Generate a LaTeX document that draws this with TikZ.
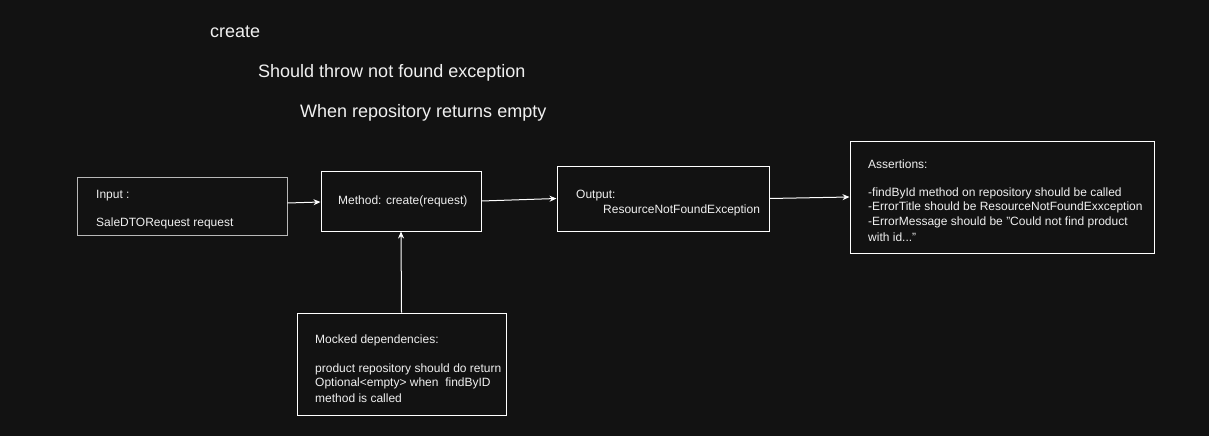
\documentclass[tikz,border=0pt]{standalone}
\usepackage{fontspec}
\setmainfont{Liberation Sans}
\usetikzlibrary{arrows.meta}
\definecolor{bgdark}{HTML}{121212}
\definecolor{txtlight}{HTML}{F0F0F0}
\definecolor{edgegray}{HTML}{B8B8B8}

\tikzset{
 box/.style={draw=white,line width=1pt,fill=bgdark,minimum width=#1},
 boxtxt/.style={anchor=west,text=txtlight,inner sep=0pt,font=\fontsize{12}{14.5}\selectfont,align=left},
 title/.style={anchor=west,text=txtlight,inner sep=0pt,font=\fontsize{18}{21}\selectfont},
 link/.style={draw=white,line width=1pt,-{Stealth[length=7pt,width=6pt]}}
}

\begin{document}
\begin{tikzpicture}[x=1pt,y=-1pt]
\fill[bgdark] (0,0) rectangle (1209,436);
\useasboundingbox (0,0) rectangle (1209,436);
% titles
\node (ttl1) at (210,32) [title]{create};
\node (ttl2) at (258,73) [title]{Should throw not found exception};
\node (ttl3) at (300,113) [title]{When repository returns empty};
% boxes
\node (input) at (182,206) [box=210,minimum height=58,draw=edgegray]{};
\node (method) at (401,201) [box=160,minimum height=60]{};
\node (output) at (663,198.5) [box=212,minimum height=65]{};
\node (assert) at (1002,197) [box=304,minimum height=112]{};
\node (mocked) at (401.5,364) [box=209,minimum height=102]{};
% texts
\node (intxt1) at (96,196) [boxtxt]{Input :};
\node (intxt2) at (96,223) [boxtxt]{SaleDTORequest request};
\node (mtxt) at (338,201) [boxtxt]{Method: create(request)};
\node (outtxt1) at (576,196) [boxtxt]{Output:};
\node (outtxt2) at (603,210) [boxtxt]{ResourceNotFoundException};
\node (astxt1) at (868,164) [boxtxt]{Assertions:};
\node (astxt2) at (868,193) [boxtxt]{-findById method on repository should be called};
\node (astxt3) at (868,207) [boxtxt]{-ErrorTitle should be ResourceNotFoundExxception};
\node (astxt4) at (868,222) [boxtxt]{-ErrorMessage should be "Could not find product};
\node (astxt5) at (868,237) [boxtxt]{with id..."};
\node (mktxt1) at (315,340) [boxtxt]{Mocked dependencies:};
\node (mktxt2) at (315,369) [boxtxt]{product repository should do return};
\node (mktxt3) at (315,383) [boxtxt]{Optional<empty> when~ findByID};
\node (mktxt4) at (315,398) [boxtxt]{method is called};
% connectors
\draw[link] ([yshift=3pt]input.east) -- ([yshift=-1pt]method.west);
\draw[link] (method.east) -- (output.west);
\draw[link] (output.east) -- (assert.west);
\draw[link] (mocked.north) -- (method.south);
\end{tikzpicture}
\end{document}
